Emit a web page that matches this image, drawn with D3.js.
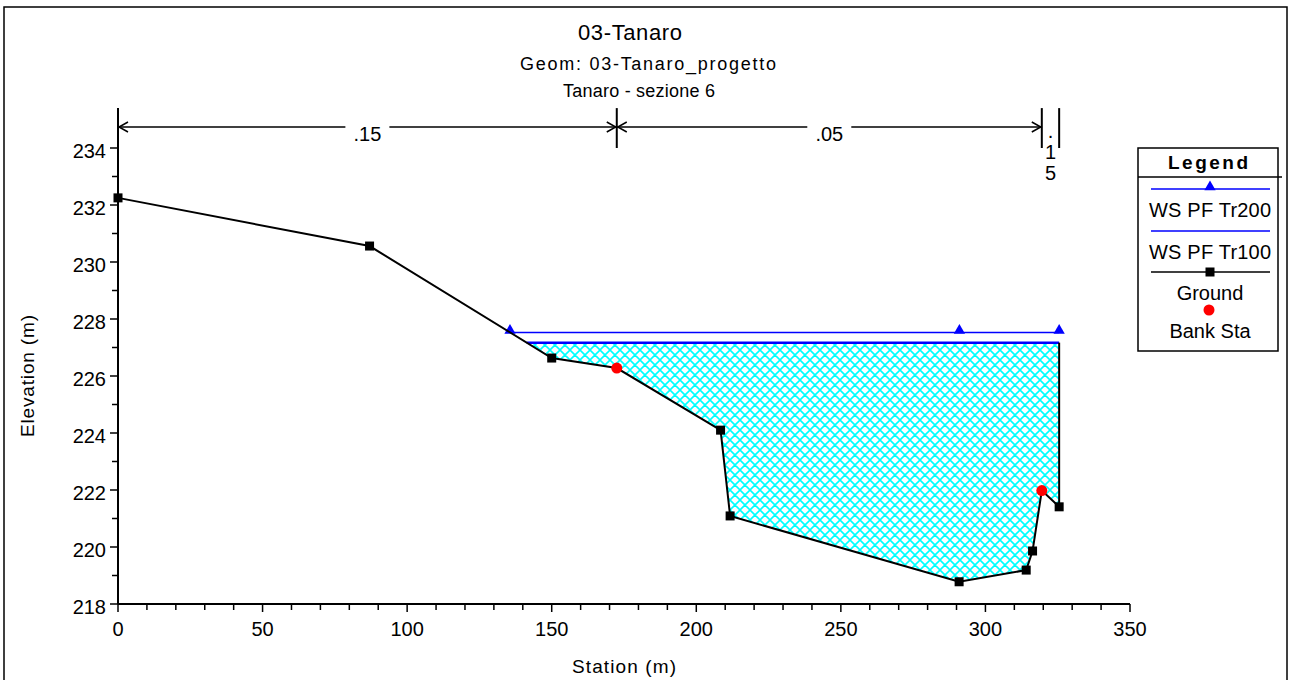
<!DOCTYPE html>
<html>
<head>
<meta charset="utf-8">
<script src="https://cdn.jsdelivr.net/npm/d3@7"></script>
<style>
  body { margin: 0; background: #fff; }
  svg text { font-family: "Liberation Sans", Arial, sans-serif; fill: #000; }
</style>
</head>
<body>
<div id="chart"></div>
<script>
// cross section data (HEC-RAS style)
const station = [0, 87, 150, 172.5, 208.4, 211.7, 290.9, 314.1, 316.3, 319.5, 325.5];
const ground = [232.25, 230.56, 226.63, 226.28, 224.1, 221.09, 218.78, 219.19, 219.86, 221.98, 221.41];
const bankStations = [172.5, 319.5];
const profiles = ["WS PF Tr200", "WS PF Tr100"];
const wsElev = [227.53, 227.17];
const tr200Marks = [291];
const nBreaks = [0, 172.5, 319.5, 325.5];
const nValues = [".15", ".05", ".15"];
const xTicks = [0, 50, 100, 150, 200, 250, 300, 350];
const yTicks = [218, 220, 222, 224, 226, 228, 230, 232, 234];

const width = 1290;
const height = 680;

const svg = d3.select("#chart").append("svg")
  .attr("width", width)
  .attr("height", height);

const x = d3.scaleLinear().domain([0, 350]).range([118, 1130]);
const y = d3.scaleLinear().domain([218, 234]).range([604, 148]);
const plotTop = y(235.4);

// outer frame
svg.append("rect")
  .attr("x", 4).attr("y", 7)
  .attr("width", 1283).attr("height", 700)
  .attr("fill", "none").attr("stroke", "#000").attr("stroke-width", 1.5);

// hatch
const defs = svg.append("defs");
defs.append("pattern")
  .attr("id", "hatch")
  .attr("patternUnits", "userSpaceOnUse")
  .attr("width", 10).attr("height", 10)
  .append("path")
  .attr("d", "M0,0L10,10M-5,5L5,15M5,-5L15,5M0,10L10,0M-5,5L5,-5M5,15L15,5")
  .attr("stroke", "#00ffff")
  .attr("stroke-width", 1.6);

// titles
const titles = [
  {t: "03-Tanaro", x: 630, y: 40, size: 22, len: 104},
  {t: "Geom: 03-Tanaro_progetto", x: 648, y: 70, size: 18, len: 256},
  {t: "Tanaro - sezione 6", x: 639, y: 97, size: 18, len: 152}
];
svg.selectAll(".title").data(titles).enter().append("text")
  .attr("x", d => d.x)
  .attr("y", d => d.y)
  .attr("text-anchor", "middle")
  .attr("font-size", d => d.size)
  .attr("textLength", d => d.len)
  .attr("lengthAdjust", "spacing")
  .text(d => d.t);

// axes
const xAxis = svg.append("g").attr("transform", `translate(0,${y(218)})`);
xAxis.append("line").attr("x1", x(0)).attr("x2", x(350)).attr("stroke", "#000").attr("stroke-width", 2);
xAxis.selectAll(".mt").data(d3.range(0, 351, 10)).enter().append("line")
  .attr("x1", d => x(d)).attr("x2", d => x(d))
  .attr("y1", 0).attr("y2", d => d % 50 === 0 ? 8 : 6)
  .attr("stroke", "#000").attr("stroke-width", 1.5);
xAxis.selectAll(".lb").data(xTicks).enter().append("text")
  .attr("x", d => x(d)).attr("y", 32)
  .attr("text-anchor", "middle").attr("font-size", 20)
  .text(d => d);

const yAxis = svg.append("g").attr("transform", `translate(${x(0)},0)`);
yAxis.append("line").attr("y1", y(218)).attr("y2", plotTop).attr("stroke", "#000").attr("stroke-width", 2);
yAxis.selectAll(".mt").data(d3.range(218, 234.5, 1)).enter().append("line")
  .attr("y1", d => y(d)).attr("y2", d => y(d))
  .attr("x1", d => d % 2 === 0 ? -8 : -6).attr("x2", 0)
  .attr("stroke", "#000").attr("stroke-width", 1.5);
yAxis.selectAll(".lb").data(yTicks).enter().append("text")
  .attr("x", -12).attr("y", d => y(d) + 10)
  .attr("text-anchor", "end").attr("font-size", 20)
  .text(d => d);

svg.append("text")
  .attr("x", 624).attr("y", 673)
  .attr("text-anchor", "middle").attr("font-size", 19)
  .attr("textLength", 104).attr("lengthAdjust", "spacing")
  .text("Station (m)");
svg.append("text")
  .attr("transform", "translate(34,376) rotate(-90)")
  .attr("text-anchor", "middle").attr("font-size", 19)
  .attr("textLength", 122).attr("lengthAdjust", "spacing")
  .text("Elevation (m)");

// water surface extents
const pts = station.map((s, i) => [s, ground[i]]);
function wsExtent(ws) {
  let i = pts.findIndex(p => p[1] < ws);
  const a = pts[i - 1], b = pts[i];
  const left = a[0] + (ws - a[1]) / (b[1] - a[1]) * (b[0] - a[0]);
  const wet = pts.filter(p => p[0] > left && p[1] < ws);
  const right = station[station.length - 1];
  return {left, right, wet};
}

// fill under lower WS
const e100 = wsExtent(wsElev[1]);
const poly = [[e100.left, wsElev[1]], ...e100.wet, [e100.right, wsElev[1]]];
svg.append("path")
  .attr("d", d3.line().x(d => x(d[0])).y(d => y(d[1]))(poly) + "Z")
  .attr("fill", "url(#hatch)");

// WS lines
profiles.forEach((p, k) => {
  const e = wsExtent(wsElev[k]);
  svg.append("line")
    .attr("x1", x(e.left)).attr("x2", x(e.right))
    .attr("y1", y(wsElev[k])).attr("y2", y(wsElev[k]))
    .attr("stroke", "#0000ff").attr("stroke-width", k === 0 ? 1.5 : 2.5);
  if (k === 0) {
    const tri = d3.symbol().type(d3.symbolTriangle).size(55);
    svg.selectAll(".tri").data([e.left, ...tr200Marks, e.right]).enter().append("path")
      .attr("d", tri)
      .attr("transform", d => `translate(${x(d)},${y(wsElev[k]) - 2})`)
      .attr("fill", "#0000ff");
  }
});

// right wall of the water
svg.append("line")
  .attr("x1", x(e100.right)).attr("x2", x(e100.right))
  .attr("y1", y(wsElev[1])).attr("y2", y(ground[ground.length - 1]))
  .attr("stroke", "#000").attr("stroke-width", 2);

// ground
svg.append("path")
  .attr("d", d3.line().x(d => x(d[0])).y(d => y(d[1]))(pts))
  .attr("fill", "none").attr("stroke", "#000").attr("stroke-width", 2);
svg.selectAll(".gp").data(pts.filter(p => !bankStations.includes(p[0]))).enter().append("rect")
  .attr("x", d => x(d[0]) - 4.5).attr("y", d => y(d[1]) - 4.5)
  .attr("width", 9).attr("height", 9).attr("fill", "#000");
svg.selectAll(".bank").data(pts.filter(p => bankStations.includes(p[0]))).enter().append("circle")
  .attr("cx", d => x(d[0])).attr("cy", d => y(d[1]))
  .attr("r", 5.5).attr("fill", "#ff0000");

// manning's n annotation
const ny = 127;
const ann = svg.append("g").attr("stroke", "#000").attr("stroke-width", 1.5).attr("fill", "none");
nBreaks.slice(1).forEach(s => {
  ann.append("line").attr("x1", x(s)).attr("x2", x(s)).attr("y1", plotTop).attr("y2", 148)
    .attr("stroke-width", 2);
});
nValues.forEach((v, i) => {
  const x0 = x(nBreaks[i]), x1 = x(nBreaks[i + 1]);
  const mid = (x0 + x1) / 2;
  if (x1 - x0 > 60) {
    ann.append("line").attr("x1", x0).attr("x2", mid - 22).attr("y1", ny).attr("y2", ny);
    ann.append("line").attr("x1", mid + 22).attr("x2", x1).attr("y1", ny).attr("y2", ny);
    ann.append("path").attr("d", `M${x0 + 10},${ny - 5}L${x0 + 1},${ny}L${x0 + 10},${ny + 5}`);
    ann.append("path").attr("d", `M${x1 - 10},${ny - 5}L${x1 - 1},${ny}L${x1 - 10},${ny + 5}`);
    svg.append("text").attr("x", mid).attr("y", ny + 14)
      .attr("text-anchor", "middle").attr("font-size", 20).text(v);
  } else {
    v.split("").forEach((c, j) => {
      svg.append("text").attr("x", mid).attr("y", ny + 11 + j * 21)
        .attr("text-anchor", "middle").attr("font-size", 20).text(c);
    });
  }
});

// legend
const lg = svg.append("g");
lg.append("rect").attr("x", 1138).attr("y", 148).attr("width", 140).attr("height", 203)
  .attr("fill", "#fff").attr("stroke", "#000").attr("stroke-width", 1.5);
lg.append("line").attr("x1", 1138).attr("x2", 1282).attr("y1", 177).attr("y2", 177)
  .attr("stroke", "#000").attr("stroke-width", 1.5);
lg.append("text").attr("x", 1208).attr("y", 169).attr("text-anchor", "middle")
  .attr("font-size", 19).attr("font-weight", "bold")
  .attr("textLength", 80).attr("lengthAdjust", "spacing").text("Legend");

const legendItems = [
  {name: profiles[0], color: "#0000ff", sym: "tri", ly: 189},
  {name: profiles[1], color: "#0000ff", sym: null, ly: 231},
  {name: "Ground", color: "#000", sym: "sq", ly: 272},
  {name: "Bank Sta", color: "#ff0000", sym: "dot", ly: 310}
];
legendItems.forEach(it => {
  if (it.sym !== "dot") {
    lg.append("line").attr("x1", 1151).attr("x2", 1270).attr("y1", it.ly).attr("y2", it.ly)
      .attr("stroke", it.color).attr("stroke-width", 1.5);
  }
  if (it.sym === "tri") {
    lg.append("path").attr("d", d3.symbol().type(d3.symbolTriangle).size(55))
      .attr("transform", `translate(1210,${it.ly - 2})`).attr("fill", it.color);
  } else if (it.sym === "sq") {
    lg.append("rect").attr("x", 1205.5).attr("y", it.ly - 4.5).attr("width", 9).attr("height", 9)
      .attr("fill", "#000");
  } else if (it.sym === "dot") {
    lg.append("circle").attr("cx", 1209).attr("cy", it.ly).attr("r", 5.5).attr("fill", it.color);
  }
  lg.append("text").attr("x", 1210).attr("y", it.ly + 28).attr("text-anchor", "middle")
    .attr("font-size", 20).attr("textLength", it.name.length > 8 ? 122 : null)
    .attr("lengthAdjust", "spacing").text(it.name);
});
</script>
</body>
</html>
